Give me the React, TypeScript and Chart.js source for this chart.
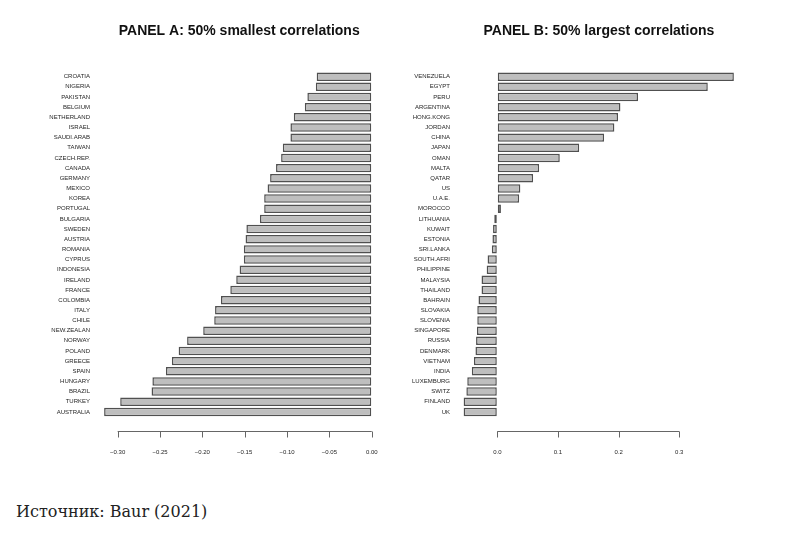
import React, { useEffect, useRef } from "react";
import { Chart, registerables } from "chart.js";

Chart.register(...registerables);

// ---------- data ----------
const CATEGORIES_A = [
  "CROATIA", "NIGERIA", "PAKISTAN", "BELGIUM", "NETHERLAND", "ISRAEL", "SAUDI.ARAB",
  "TAIWAN", "CZECH.REP.", "CANADA", "GERMANY", "MEXICO", "KOREA", "PORTUGAL",
  "BULGARIA", "SWEDEN", "AUSTRIA", "ROMANIA", "CYPRUS", "INDONESIA", "IRELAND",
  "FRANCE", "COLOMBIA", "ITALY", "CHILE", "NEW.ZEALAN", "NORWAY", "POLAND",
  "GREECE", "SPAIN", "HUNGARY", "BRAZIL", "TURKEY", "AUSTRALIA",
];
const VALUES_A = [
  -0.065, -0.066, -0.076, -0.079, -0.092, -0.096, -0.096,
  -0.105, -0.107, -0.113, -0.120, -0.123, -0.127, -0.127,
  -0.132, -0.148, -0.149, -0.151, -0.151, -0.156, -0.160,
  -0.167, -0.178, -0.185, -0.186, -0.199, -0.218, -0.228,
  -0.236, -0.243, -0.259, -0.260, -0.297, -0.316,
];
const TICKS_A = [-0.3, -0.25, -0.2, -0.15, -0.1, -0.05, 0.0];

const CATEGORIES_B = [
  "VENEZUELA", "EGYPT", "PERU", "ARGENTINA", "HONG.KONG", "JORDAN", "CHINA",
  "JAPAN", "OMAN", "MALTA", "QATAR", "US", "U.A.E.", "MOROCCO", "LITHUANIA",
  "KUWAIT", "ESTONIA", "SRI.LANKA", "SOUTH.AFRI", "PHILIPPINE", "MALAYSIA",
  "THAILAND", "BAHRAIN", "SLOVAKIA", "SLOVENIA", "SINGAPORE", "RUSSIA",
  "DENMARK", "VIETNAM", "INDIA", "LUXEMBURG", "SWITZ", "FINLAND", "UK",
];
const VALUES_B = [
  0.390, 0.347, 0.232, 0.203, 0.199, 0.193, 0.176,
  0.135, 0.103, 0.069, 0.059, 0.038, 0.036, 0.006, -0.005,
  -0.007, -0.008, -0.009, -0.016, -0.0175, -0.026,
  -0.026, -0.031, -0.033, -0.033, -0.0335, -0.035,
  -0.036, -0.0385, -0.042, -0.0495, -0.051, -0.0555, -0.0555,
];
const TICKS_B = [0.0, 0.1, 0.2, 0.3];

const TITLE_A = "PANEL A: 50% smallest correlations";
const TITLE_B = "PANEL B: 50% largest correlations";
const SOURCE = "Источник: Baur (2021)";

// ---------- styling ----------
const FONT = "'Liberation Sans', Arial, Helvetica, sans-serif";
const BAR_FILL = "#bebebe";
const BAR_BORDER = "#505050";
const AXIS_COLOR = "#666666";
const TEXT_COLOR = "#1e1e1e";
const CANVAS_H = 487;

type PanelProps = {
  title: string;
  cats: string[];
  values: number[];
  ticks: number[];
  decimals: number;
  min: number;
  max: number;
  width: number;
  yAxisWidth: number;
  labelPad: number;
  padRight: number;
};

const axisPlugin = (tickVals: number[]) => ({
  id: "rStyleAxis",
  afterDraw(chart: any) {
    const { ctx, chartArea } = chart;
    const xs = chart.scales.x;
    const y = Math.round(chartArea.bottom + 14) + 0.5;
    const x0 = xs.getPixelForValue(tickVals[0]);
    const x1 = xs.getPixelForValue(tickVals[tickVals.length - 1]);
    ctx.save();
    ctx.strokeStyle = AXIS_COLOR;
    ctx.lineWidth = 1;
    ctx.beginPath();
    ctx.moveTo(x0, y);
    ctx.lineTo(x1, y);
    for (const v of tickVals) {
      const px = Math.round(xs.getPixelForValue(v)) + 0.5;
      ctx.moveTo(px, y);
      ctx.lineTo(px, y + 6);
    }
    ctx.stroke();
    ctx.restore();
  },
});

function Panel(p: PanelProps) {
  const ref = useRef<HTMLCanvasElement | null>(null);
  useEffect(() => {
    if (!ref.current) return;
    const chart = new Chart(ref.current, {
      type: "bar",
      data: {
        labels: p.cats,
        datasets: [
          {
            data: p.values,
            backgroundColor: BAR_FILL,
            borderColor: BAR_BORDER,
            borderWidth: 1.5,
            borderSkipped: false,
            categoryPercentage: 1,
            barPercentage: 0.833,
          },
        ],
      },
      options: {
        indexAxis: "y",
        animation: false,
        responsive: false,
        layout: { padding: { left: 0, right: p.padRight, top: 0, bottom: 18 } },
        plugins: {
          legend: { display: false },
          tooltip: { enabled: false },
          title: {
            display: true,
            text: p.title,
            fullSize: false,
            color: "#111111",
            font: { family: FONT, size: 14, weight: "bold", lineHeight: 1.2 },
            padding: { top: 15, bottom: 31.8 },
          },
        },
        scales: {
          x: {
            type: "linear",
            min: p.min,
            max: p.max,
            afterBuildTicks: (axis: any) => {
              axis.ticks = p.ticks.map((v) => ({ value: v }));
            },
            afterFit: (s: any) => {
              s.height = 60;
            },
            grid: {
              display: true,
              drawOnChartArea: false,
              drawTicks: true,
              tickLength: 32,
              color: "rgba(0,0,0,0)",
            },
            border: { display: false },
            ticks: {
              autoSkip: false,
              maxRotation: 0,
              padding: 0,
              color: TEXT_COLOR,
              font: { family: FONT, size: 6 },
              callback: (v: any) => {
                const s = Number(v).toFixed(p.decimals);
                return s.startsWith("-") ? "\u2212" + s.slice(1) : s;
              },
            },
          },
          y: {
            type: "category",
            offset: true,
            afterFit: (s: any) => {
              s.width = p.yAxisWidth;
            },
            grid: { display: false, drawTicks: false },
            border: { display: false },
            ticks: {
              autoSkip: false,
              padding: p.labelPad,
              color: TEXT_COLOR,
              font: { family: FONT, size: 6 },
            },
          },
        },
      },
      plugins: [axisPlugin(p.ticks)],
    } as any);
    return () => chart.destroy();
  }, []);
  return (
    <canvas
      ref={ref}
      width={p.width}
      height={CANVAS_H}
      style={{ width: p.width, height: CANVAS_H, display: "block" }}
    />
  );
}

export default function App() {
  return (
    <div>
      <div style={{ display: "flex", width: 776, height: CANVAS_H }}>
        <Panel
          title={TITLE_A}
          cats={CATEGORIES_A}
          values={VALUES_A}
          ticks={TICKS_A}
          decimals={2}
          min={-0.325}
          max={0.012}
          width={384}
          yAxisWidth={88.5}
          labelPad={6.5}
          padRight={10.1}
        />
        <Panel
          title={TITLE_B}
          cats={CATEGORIES_B}
          values={VALUES_B}
          ticks={TICKS_B}
          decimals={1}
          min={-0.06}
          max={0.395}
          width={392}
          yAxisWidth={68.9}
          labelPad={10.9}
          padRight={47.1}
        />
      </div>
      <p
        style={{
          margin: "7px 0 0 8px",
          fontFamily: "'DejaVu Serif', serif",
          fontSize: 16,
          color: "#222222",
        }}
      >
        {SOURCE}
      </p>
    </div>
  );
}
